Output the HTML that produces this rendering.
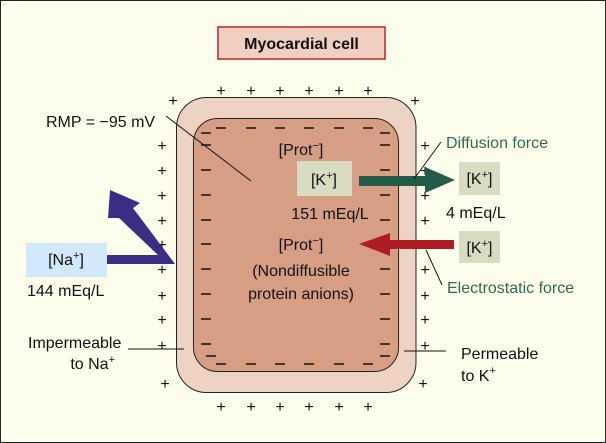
<!DOCTYPE html>
<html><head><style>
body{margin:0;background:#fff}
svg{display:block}
text{font-family:"Liberation Sans",sans-serif;font-size:16px;fill:#111}
</style></head><body>
<svg width="606" height="443" viewBox="0 0 606 443" xmlns="http://www.w3.org/2000/svg">
<rect x="0.5" y="0.5" width="605" height="442" fill="#fefeec" stroke="#222" stroke-width="1"/>
<rect x="218" y="27" width="167" height="32" fill="#f0d0c0" stroke="#c0202a" stroke-width="1.5"/>
<text x="301.5" y="49" text-anchor="middle" style="font-weight:bold;font-size:16px">Myocardial cell</text>

<rect x="176.5" y="97.5" width="239.5" height="295" rx="30" fill="#efd3c2" stroke="#222" stroke-width="1"/>
<rect x="193.5" y="118.5" width="205" height="253" rx="24" fill="#d69f84" stroke="#222" stroke-width="1"/>

<g text-anchor="middle" style="font-size:16px">
<text x="221" y="96">+</text><text x="251" y="96">+</text><text x="280" y="96">+</text><text x="309" y="96">+</text><text x="339" y="96">+</text><text x="368" y="96">+</text>
<text x="221" y="412">+</text><text x="251" y="412">+</text><text x="280" y="412">+</text><text x="309" y="412">+</text><text x="339" y="412">+</text><text x="368" y="412">+</text>
<text x="173" y="106">+</text><text x="415" y="106">+</text><text x="165" y="389">+</text><text x="423" y="389">+</text>
<text x="162" y="151">+</text><text x="162" y="176">+</text><text x="162" y="201">+</text><text x="162" y="226">+</text><text x="162" y="250">+</text><text x="162" y="275">+</text><text x="162" y="301">+</text><text x="162" y="325">+</text><text x="162" y="351">+</text>
<text x="425" y="151">+</text><text x="425" y="176">+</text><text x="425" y="201">+</text><text x="425" y="226">+</text><text x="425" y="250">+</text><text x="425" y="275">+</text><text x="425" y="301">+</text><text x="425" y="325">+</text><text x="425" y="351">+</text>
</g>
<g stroke="#111" stroke-width="1.4">
<path d="M216 128h10M246 128h10M275 128h10M304 128h10M334 128h10M363 128h10M216 364h10M246 364h10M275 364h10M304 364h10M334 364h10M363 364h10"/>
<path d="M201 133h10M380 133h10M206 356h10M380 356h10"/>
<path d="M201 145h10M201 170h10M201 195h10M201 220h10M201 244h10M201 269h10M201 294h10M201 319h10M201 344h10"/>
<path d="M380 145h10M380 170h10M380 195h10M380 220h10M380 244h10M380 269h10M380 294h10M380 319h10M380 344h10"/>
</g>

<text x="46" y="127">RMP = −95 mV</text>
<line x1="166" y1="116" x2="251" y2="181" stroke="#111" stroke-width="1"/>
<text x="301" y="155" text-anchor="middle">[Prot<tspan dy="-6" style="font-size:11px">−</tspan><tspan dy="6">]</tspan></text>

<rect x="297" y="161" width="55" height="35" fill="#d8dcc0"/>
<text x="324" y="185" text-anchor="middle">[K<tspan dy="-6" style="font-size:11px">+</tspan><tspan dy="6">]</tspan></text>
<text x="330" y="219" text-anchor="middle">151 mEq/L</text>

<polygon points="359,176 425,176 425,167 455,180 425,193 425,186 359,186" fill="#235c46"/>
<rect x="459" y="162" width="41" height="33" fill="#d8dcc0"/>
<text x="479.5" y="184" text-anchor="middle">[K<tspan dy="-6" style="font-size:11px">+</tspan><tspan dy="6">]</tspan></text>
<text x="446" y="218">4 mEq/L</text>
<text x="446" y="148" style="fill:#2e6a4e">Diffusion force</text>
<line x1="441" y1="142" x2="414" y2="179" stroke="#111" stroke-width="1"/>

<polygon points="359,244 390,233 390,240 454,240 454,249 390,249 390,256" fill="#b01c24"/>
<rect x="459" y="231" width="41" height="32" fill="#d8dcc0"/>
<text x="479.5" y="253" text-anchor="middle">[K<tspan dy="-6" style="font-size:11px">+</tspan><tspan dy="6">]</tspan></text>
<line x1="426" y1="250" x2="442" y2="285" stroke="#111" stroke-width="1"/>
<text x="447" y="293" style="fill:#2e6a4e">Electrostatic force</text>

<text x="301" y="250" text-anchor="middle">[Prot<tspan dy="-6" style="font-size:11px">−</tspan><tspan dy="6">]</tspan></text>
<text x="301" y="276" text-anchor="middle">(Nondiffusible</text>
<text x="301" y="299" text-anchor="middle">protein anions)</text>

<rect x="26" y="243" width="81" height="34" fill="#d2e8fb"/>
<text x="66" y="265" text-anchor="middle">[Na<tspan dy="-6" style="font-size:11px">+</tspan><tspan dy="6">]</tspan></text>
<text x="27" y="296">144 mEq/L</text>
<polygon points="110,190 140,203 133,208 175,264 107,264 107,255 158,255 119,218 108,218" fill="#3b2d83"/>

<text x="28" y="348">Impermeable</text>
<text x="115" y="369" text-anchor="end">to Na<tspan dy="-6" style="font-size:11px">+</tspan></text>
<line x1="128" y1="349" x2="184" y2="349" stroke="#111" stroke-width="1"/>
<text x="461" y="359">Permeable</text>
<text x="461" y="381">to K<tspan dy="-7" style="font-size:11px">+</tspan></text>
<line x1="404" y1="351" x2="446" y2="351" stroke="#111" stroke-width="1"/>
</svg>
</body></html>
